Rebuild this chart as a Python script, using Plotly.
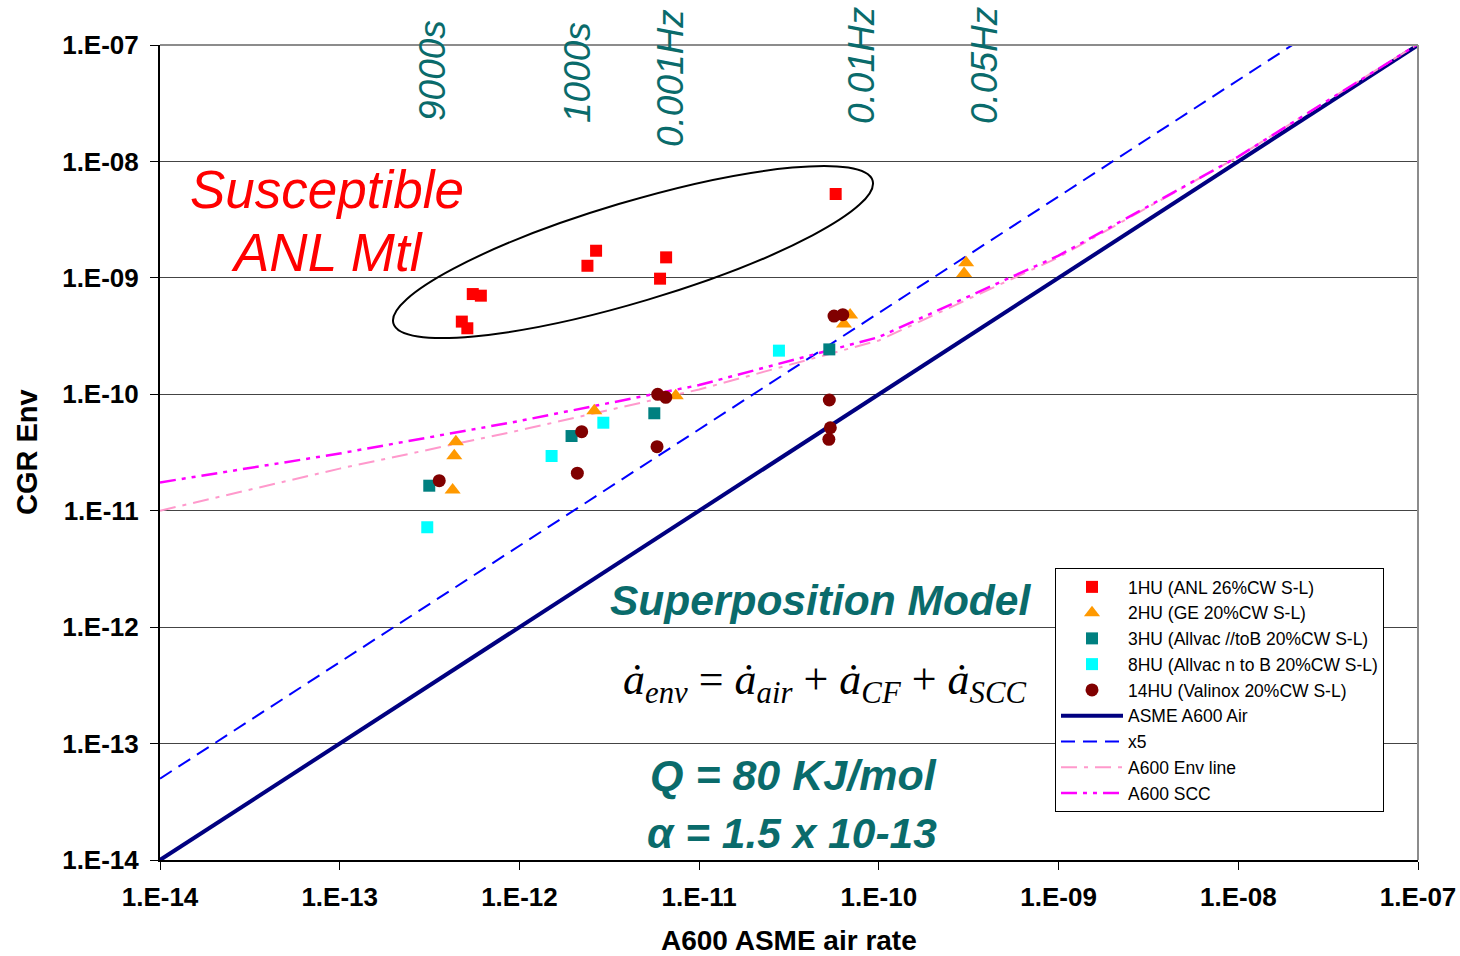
import math
import plotly.graph_objects as go

# ---------------- data ----------------
hu1_x = [4.78e-13, 5.13e-13, 5.50e-13, 6.10e-13, 2.39e-12, 2.67e-12, 6.55e-12, 6.06e-12, 5.75e-11]
hu1_y = [4.21e-10, 3.69e-10, 7.26e-10, 7.03e-10, 1.27e-9, 1.71e-9, 1.50e-9, 9.84e-10, 5.25e-9]

hu2_x = [4.43e-13, 4.34e-13, 4.25e-13, 2.61e-12, 7.41e-12, 6.40e-11, 6.92e-11, 2.98e-10, 3.06e-10]
hu2_y = [3.92e-11, 2.97e-11, 1.51e-11, 7.23e-11, 9.72e-11, 4.02e-10, 4.80e-10, 1.09e-9, 1.35e-9]

hu3_x = [3.15e-13, 1.95e-12, 5.63e-12, 5.30e-11]
hu3_y = [1.64e-11, 4.38e-11, 6.87e-11, 2.43e-10]

hu8_x = [3.07e-13, 1.51e-12, 2.93e-12, 2.78e-11]
hu8_y = [7.21e-12, 2.95e-11, 5.70e-11, 2.37e-10]

hu14_x = [3.58e-13, 2.22e-12, 2.10e-12, 5.88e-12, 6.52e-12, 5.83e-12, 5.63e-11, 6.30e-11, 5.30e-11, 5.37e-11, 5.27e-11]
hu14_y = [1.81e-11, 4.77e-11, 2.10e-11, 1.00e-10, 9.42e-11, 3.55e-11, 4.70e-10, 4.83e-10, 8.93e-11, 5.16e-11, 4.10e-11]

air_x = [1e-14, 1e-7]
air_y = [1e-14, 1e-7]
x5_x = [1e-14, 2.2e-8]
x5_y = [5e-14, 1.1e-7]

curve_x = [1e-14, 1e-13, 1e-12, 1e-11, 1e-10, 1e-9, 1e-8, 1e-7]
env_y = [1.0e-11, 2.3e-11, 4.9e-11, 1.1e-10, 2.9e-10, 1.5e-9, 1.1e-8, 1.02e-7]
scc_y = [1.75e-11, 3.1e-11, 5.9e-11, 1.2e-10, 3.1e-10, 1.55e-9, 1.1e-8, 1.02e-7]

tick_vals = [1e-14, 1e-13, 1e-12, 1e-11, 1e-10, 1e-9, 1e-8, 1e-7]
tick_text = ["1.E-14", "1.E-13", "1.E-12", "1.E-11", "1.E-10", "1.E-09", "1.E-08", "1.E-07"]

# ---------------- layout geometry ----------------
W, H = 1460, 956
L, R, T, B = 160, 42, 45, 96
PW, PH = W - L - R, H - T - B


def pxx(x):
    return (x - L) / PW


def pyy(y):
    return (H - B - y) / PH


TEAL = "#0a6b6b"
SANS = "Liberation Sans, Arial, sans-serif"

fig = go.Figure()

# lines first (under markers)
fig.add_trace(go.Scatter(x=air_x, y=air_y, mode="lines", name="ASME A600 Air",
                         line=dict(color="#000080", width=4), legendrank=6))
fig.add_trace(go.Scatter(x=x5_x, y=x5_y, mode="lines", name="x5",
                         line=dict(color="#0000FF", width=2, dash="14px,8px"), legendrank=7))
fig.add_trace(go.Scatter(x=curve_x, y=env_y, mode="lines", name="A600 Env line",
                         line=dict(color="#FF99CC", width=2, dash="16px,7px,4px,7px"), legendrank=8))
fig.add_trace(go.Scatter(x=curve_x, y=scc_y, mode="lines", name="A600 SCC",
                         line=dict(color="#FF00FF", width=2.5, dash="16px,6px,4px,6px,4px,6px"), legendrank=9))

fig.add_trace(go.Scatter(x=hu1_x, y=hu1_y, mode="markers", name="1HU (ANL 26%CW S-L)",
                         marker=dict(symbol="square", color="#FF0000", size=12), legendrank=1))
fig.add_trace(go.Scatter(x=hu2_x, y=hu2_y, mode="markers", name="2HU (GE 20%CW S-L)",
                         marker=dict(symbol="triangle-up", color="#FF9900", size=14), legendrank=2))
fig.add_trace(go.Scatter(x=hu3_x, y=hu3_y, mode="markers", name="3HU (Allvac //toB 20%CW S-L)",
                         marker=dict(symbol="square", color="#008080", size=12), legendrank=3))
fig.add_trace(go.Scatter(x=hu8_x, y=hu8_y, mode="markers", name="8HU (Allvac n to B 20%CW S-L)",
                         marker=dict(symbol="square", color="#00FFFF", size=12), legendrank=4))
fig.add_trace(go.Scatter(x=hu14_x, y=hu14_y, mode="markers", name="14HU (Valinox 20%CW S-L)",
                         marker=dict(symbol="circle", color="#800000", size=13), legendrank=5))

# ---------------- ellipse (paper coords, cubic Bezier) ----------------
cx, cy, ea, eb, ang = 633, 252, 250, 50, math.radians(-16.6)
ux, uy = math.cos(ang), math.sin(ang)
vx, vy = -math.sin(ang), math.cos(ang)
k = 0.5523


def E(p, q):
    X = cx + p * ea * ux + q * eb * vx
    Y = cy + p * ea * uy + q * eb * vy
    return f"{pxx(X):.5f},{pyy(Y):.5f}"


path = (f"M{E(1,0)} C{E(1,k)} {E(k,1)} {E(0,1)} "
        f"C{E(-k,1)} {E(-1,k)} {E(-1,0)} "
        f"C{E(-1,-k)} {E(-k,-1)} {E(0,-1)} "
        f"C{E(k,-1)} {E(1,-k)} {E(1,0)} Z")

shapes = [
    dict(type="path", xref="paper", yref="paper", path=path,
         line=dict(color="black", width=2), fillcolor="rgba(0,0,0,0)"),
    # right and top frame (gray)
    dict(type="line", xref="paper", yref="paper", x0=1, x1=1, y0=0, y1=1,
         line=dict(color="#8c8c8c", width=2)),
    dict(type="line", xref="paper", yref="paper", x0=0, x1=1, y0=1, y1=1,
         line=dict(color="#8c8c8c", width=2)),
]

annotations = []


def ann(text, x, y, size, color, angle=0, family=SANS, **kw):
    annotations.append(dict(text=text, x=pxx(x), y=pyy(y), xref="paper", yref="paper",
                            showarrow=False, textangle=angle, xanchor="center", yanchor="middle",
                            font=dict(size=size, color=color, family=family), **kw))


for t, x, y in [("<i>9000s</i>", 432, 71), ("<i>1000s</i>", 577, 73),
                ("<i>0.001Hz</i>", 670, 78), ("<i>0.01Hz</i>", 862, 66),
                ("<i>0.05Hz</i>", 985, 66)]:
    ann(t, x, y, 37, TEAL, angle=-90)

ann("<i>Susceptible</i>", 327, 190, 53, "#FF0000")
ann("<i>ANL Mtl</i>", 327, 253, 53, "#FF0000")
ann("<b><i>Superposition Model</i></b>", 820, 600, 42.5, TEAL)
ann("<i>ȧ</i><sub><i>env</i></sub> = <i>ȧ</i><sub><i>air</i></sub> + <i>ȧ</i><sub><i>CF</i></sub> + <i>ȧ</i><sub><i>SCC</i></sub>",
    825, 682, 44, "black", family="Liberation Serif, Times New Roman, serif")
ann("<b><i>Q = 80 KJ/mol</i></b>", 793, 775, 43, TEAL)
ann("<b><i>α = 1.5 x 10-13</i></b>", 792, 833, 42.5, TEAL)

ann("<b>CGR Env</b>", 27, 452, 29, "black", angle=-90)
ann("<b>A600 ASME air rate</b>", 789, 940, 28, "black")

axis_common = dict(type="log", range=[-14, -7], tickvals=tick_vals, ticktext=tick_text,
                   ticks="outside", ticklen=8, tickwidth=1, tickcolor="black",
                   showline=True, linecolor="black", linewidth=2, automargin=False,
                   tickfont=dict(family=SANS, size=26, color="black", weight="bold"),
                   zeroline=False)

fig.update_layout(
    width=W, height=H,
    margin=dict(l=L, r=R, t=T, b=B, pad=0, autoexpand=False),
    paper_bgcolor="white", plot_bgcolor="white",
    xaxis=dict(**axis_common, showgrid=False, ticklabelstandoff=5),
    yaxis=dict(**axis_common, showgrid=True, gridcolor="#444444", gridwidth=1, ticklabelstandoff=6),
    shapes=shapes,
    annotations=annotations,
    showlegend=True,
    legend=dict(x=pxx(1055), y=pyy(568), xanchor="left", yanchor="top",
                bgcolor="white", bordercolor="black", borderwidth=1,
                font=dict(family=SANS, size=17.5, color="black"),
                itemwidth=62, tracegroupgap=0, traceorder="normal"),
)

fig.write_html("out.html")
